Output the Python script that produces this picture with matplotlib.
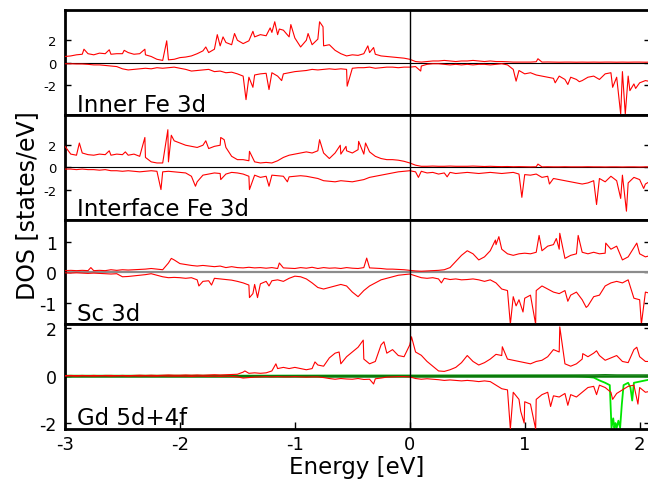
import numpy as np
import matplotlib.pyplot as plt

plt.rcParams['font.family'] = ['DejaVu Sans']

# energy grid (eV), 0.05 eV steps from -3.0 to 2.1
energy = np.round(np.linspace(-3.0, 2.1, 103), 3)

# ---- Inner Fe 3d ----
inner_up = [
    0.55, 0.6, 0.7, 0.75, 0.8, 0.7, 0.85, 0.8, 0.75, 0.8,
    0.8, 0.9, 0.75, 0.8, 0.7, 0.55, 0.3, 0.2, 0.25, 0.3,
    0.45, 0.5, 0.6, 0.8, 1.05, 0.9, 1.2, 1.5, 1.8, 1.6,
    2.0, 1.7, 1.95, 2.3, 2.5, 2.4, 2.7, 2.5, 2.9, 2.3,
    2.2, 1.4, 2.0, 1.6, 2.1, 1.5, 1.6, 1.1, 0.8, 0.6,
    0.7, 0.65, 0.8, 0.9, 0.75, 0.6, 0.55, 0.5, 0.45, 0.4,
    0.3, 0.1, 0.05, 0.1, 0.15, 0.15, 0.2, 0.15, 0.1, 0.15,
    0.15, 0.2, 0.15, 0.1, 0.15, 0.1, 0.1, 0.08, 0.05, 0.05,
    0.05, 0.05, 0.08, 0.05, 0.06, 0.05, 0.04, 0.05, 0.05, 0.04,
    0.05, 0.04, 0.05, 0.04, 0.05, 0.05, 0.04, 0.05, 0.04, 0.05,
    0.05, 0.04, 0.05]
inner_up_spk_e = [-2.835, -2.615, -2.485, -2.305, -2.115, -1.775, -1.675, -1.625, -1.525,
                  -1.365, -1.215, -1.175, -1.135, -1.035, -0.885, -0.785, -0.755, -0.365,
                  -0.315, 1.115]
inner_up_spk_v = [1.2, 1.15, 1.1, 1.2, 1.95, 1.4, 2.5, 2.3, 2.6,
                  2.8, 3.1, 3.65, 3.0, 3.4, 2.6, 3.65, 3.2, 1.5,
                  1.35, 0.35]
inner_dn = [
    -0.1, -0.1, -0.12, -0.12, -0.15, -0.2, -0.2, -0.25, -0.3, -0.35,
    -0.55, -0.65, -0.6, -0.55, -0.5, -0.55, -0.45, -0.5, -0.45, -0.4,
    -0.5, -0.6, -0.75, -0.7, -0.65, -0.6, -0.8, -0.75, -0.9, -0.85,
    -1.0, -1.2, -1.3, -1.1, -1.0, -0.95, -0.9, -1.2, -1.0, -0.9,
    -0.8, -0.75, -0.7, -0.6, -0.65, -0.6, -0.55, -0.6, -0.55, -0.6,
    -0.5, -0.45, -0.45, -0.4, -0.5, -0.45, -0.4, -0.4, -0.45, -0.4,
    -0.4, -0.35, -0.3, -0.15, -0.1, -0.1, -0.15, -0.2, -0.15, -0.2,
    -0.15, -0.2, -0.15, -0.15, -0.2, -0.15, -0.1, -0.2, -0.6, -0.7,
    -1.0, -0.9, -1.1, -1.2, -1.3, -1.4, -1.2, -1.5, -1.3, -1.5,
    -1.6, -1.3, -1.2, -1.5, -1.0, -0.9, -1.3, -0.8, -1.2, -1.9,
    -1.8, -1.6, -1.7]
inner_dn_spk_e = [-1.425, -1.365, -1.225, -1.115, -0.545, 0.095, 0.925, 1.265, 1.375,
                  1.475, 1.765, 1.835, 1.875, 1.915, 1.965]
inner_dn_spk_v = [-3.3, -2.2, -2.4, -1.6, -2.1, -0.75, -1.65, -1.8, -1.95,
                  -1.7, -2.2, -4.6, -4.6, -2.5, -2.3]

# ---- Interface Fe 3d ----
iface_up = [
    1.9, 1.2, 1.1, 1.3, 1.15, 1.1, 1.2, 1.15, 1.1, 1.2,
    1.15, 1.1, 1.2, 1.0, 0.9, 0.5, 0.4, 0.4, 0.5, 2.4,
    2.2, 2.0, 1.9, 1.8, 2.0, 1.7, 1.9, 2.0, 1.8, 1.0,
    0.7, 0.7, 0.6, 0.5, 0.4, 0.45, 0.4, 0.6, 0.9, 1.1,
    1.2, 1.3, 1.4, 1.3, 1.5, 1.3, 0.8, 1.3, 1.2, 1.5,
    1.3, 1.6, 1.2, 1.4, 1.0, 0.8, 0.7, 0.7, 0.65, 0.55,
    0.4, 0.2, 0.1, 0.1, 0.12, 0.1, 0.1, 0.12, 0.1, 0.1,
    0.1, 0.12, 0.1, 0.08, 0.1, 0.08, 0.07, 0.08, 0.06, 0.07,
    0.06, 0.05, 0.06, 0.05, 0.06, 0.05, 0.05, 0.06, 0.05, 0.05,
    0.05, 0.06, 0.05, 0.05, 0.04, 0.05, 0.05, 0.04, 0.05, 0.05,
    0.04, 0.05, 0.05]
iface_up_spk_e = [-2.875, -2.615, -2.475, -2.305, -2.105, -2.075, -1.775, -1.645, -1.615,
                  -1.395, -0.785, -0.605, -0.555, -0.445, -0.385, 1.115]
iface_up_spk_v = [2.2, 1.5, 1.4, 2.7, 3.4, 2.9, 2.4, 2.7, 2.5,
                  1.45, 2.5, 2.0, 1.9, 2.35, 2.2, 0.3]
iface_dn = [
    -0.15, -0.15, -0.2, -0.15, -0.2, -0.2, -0.25, -0.2, -0.3, -0.3,
    -0.35, -0.3, -0.35, -0.4, -0.35, -0.3, -0.35, -0.4, -0.35, -0.4,
    -0.45, -0.5, -0.8, -1.3, -0.7, -0.6, -0.5, -0.55, -0.6, -0.45,
    -0.5, -0.6, -0.8, -0.7, -0.9, -0.8, -0.7, -0.75, -0.8, -0.85,
    -0.8, -0.75, -0.8, -0.9, -1.0, -1.2, -1.25, -1.3, -1.2, -1.25,
    -1.3, -1.2, -1.1, -0.9, -0.8, -0.7, -0.6, -0.5, -0.4, -0.35,
    -0.3, -0.4, -0.35, -0.5, -0.45, -0.6, -0.5, -0.45, -0.55, -0.5,
    -0.45, -0.5, -0.55, -0.5, -0.45, -0.5, -0.55, -0.5, -0.45, -0.6,
    -0.65, -0.7, -0.6, -0.9, -0.8, -1.0, -1.1, -1.2, -1.3, -1.4,
    -1.5, -1.4, -1.2, -1.0, -1.3, -0.8, -1.2, -0.7, -1.4, -0.9,
    -1.1, -1.5, -1.2]
iface_dn_spk_e = [-2.165, -1.865, -1.645, -1.395, -1.225, -1.065, 0.075, 0.325, 0.975,
                  1.215, 1.625, 1.835, 1.885, 2.035]
iface_dn_spk_v = [-2.0, -1.7, -1.1, -2.0, -1.7, -1.3, -0.9, -0.85, -2.7,
                  -1.5, -3.35, -2.8, -3.95, -1.9]

# ---- Sc 3d ----
sc_up = [
    0.05, 0.06, 0.05, 0.06, 0.05, 0.05, 0.06, 0.05, 0.08, 0.06,
    0.08, 0.07, 0.08, 0.09, 0.1, 0.12, 0.1, 0.08, 0.3, 0.4,
    0.28, 0.25, 0.22, 0.2, 0.22, 0.2, 0.18, 0.2, 0.15, 0.18,
    0.15, 0.14, 0.16, 0.14, 0.15, 0.13, 0.15, 0.12, 0.14, 0.13,
    0.12, 0.15, 0.13, 0.16, 0.12, 0.15, 0.13, 0.14, 0.12, 0.15,
    0.13, 0.12, 0.15, 0.14, 0.13, 0.12, 0.1, 0.1, 0.09, 0.08,
    0.06, 0.04, 0.03, 0.04, 0.05, 0.06, 0.08, 0.15, 0.35, 0.55,
    0.7, 0.6, 0.4, 0.5, 0.7, 0.9, 0.75, 0.6, 0.55, 0.6,
    0.62, 0.6, 0.65, 0.7, 0.85, 0.9, 0.75, 0.45, 0.55, 0.6,
    0.65, 0.6, 0.65, 0.6, 0.62, 0.75, 0.85, 0.4, 0.5, 0.8,
    0.6, 0.5, 0.55]
sc_up_spk_e = [-2.775, -2.075, -1.135, -0.375, 0.745, 0.775, 1.125, 1.275, 1.305,
               1.465, 1.705, 1.975]
sc_up_spk_v = [0.15, 0.45, 0.3, 0.46, 1.05, 1.16, 1.2, 1.1, 1.27,
               1.2, 0.95, 0.95]
sc_dn = [
    -0.02, -0.03, -0.02, -0.03, -0.04, -0.03, -0.04, -0.05, -0.06, -0.05,
    -0.15, -0.14, -0.12, -0.1, -0.08, -0.05, -0.1, -0.15, -0.18, -0.17,
    -0.18, -0.2, -0.18, -0.25, -0.3, -0.28, -0.2, -0.22, -0.24, -0.26,
    -0.3, -0.35, -0.42, -0.4, -0.38, -0.3, -0.28, -0.25, -0.3, -0.2,
    -0.13, -0.15, -0.22, -0.35, -0.5, -0.55, -0.5, -0.45, -0.4, -0.45,
    -0.65, -0.8, -0.6, -0.45, -0.35, -0.25, -0.2, -0.15, -0.1, -0.08,
    -0.06, -0.12, -0.18, -0.2, -0.18, -0.22, -0.2, -0.24, -0.22, -0.25,
    -0.24, -0.22, -0.25, -0.3, -0.25, -0.35, -0.55, -0.6, -0.8, -0.9,
    -0.85, -0.75, -0.6, -0.45, -0.55, -0.65, -0.7, -0.6, -0.75, -0.65,
    -0.9, -1.1, -0.8, -0.75, -0.45, -0.35, -0.3, -0.35, -0.25, -0.85,
    -0.9, -0.65, -0.7]
sc_dn_spk_e = [-1.835, -1.725, -1.395, -1.365, -1.325, -1.225, 0.275, 0.875, 0.925,
               0.985, 1.095, 1.375, 1.535, 2.015]
sc_dn_spk_v = [-0.45, -0.42, -0.83, -0.7, -0.83, -0.45, -0.35, -1.7, -1.1,
               -1.3, -1.7, -0.95, -1.15, -1.7]

# ---- Gd 5d+4f ----
gd_up = [
    0.0, 0.01, 0.0, 0.01, 0.0, 0.01, 0.0, 0.01, 0.01, 0.0,
    0.01, 0.0, 0.01, 0.02, 0.01, 0.02, 0.01, 0.02, 0.03, 0.02,
    0.02, 0.03, 0.02, 0.03, 0.02, 0.03, 0.04, 0.03, 0.04, 0.05,
    0.06, 0.15, 0.1, 0.12, 0.1, 0.12, 0.2, 0.3, 0.35, 0.3,
    0.35, 0.3, 0.25, 0.3, 0.45, 0.4, 0.75, 0.95, 0.5, 0.8,
    1.0, 1.2, 0.7, 0.5, 0.6, 1.3, 0.95, 1.1, 0.85, 0.8,
    1.3, 1.0, 0.86, 0.6, 0.4, 0.2, 0.18, 0.25, 0.35, 0.55,
    0.85, 0.6, 0.45, 0.55, 0.7, 0.9, 0.85, 0.7, 0.65, 0.6,
    0.55, 0.5, 0.6, 0.65, 0.8, 1.1, 1.0, 0.5, 0.4, 0.5,
    0.7, 0.8, 0.95, 0.85, 0.65, 0.75, 0.85, 0.6, 0.55, 1.1,
    0.8, 0.6, 0.6]
gd_up_spk_e = [-1.435, -1.165, -0.825, -0.615, -0.405, -0.225, 0.015, 0.805, 1.305,
               1.505, 1.625, 1.975]
gd_up_spk_v = [0.2, 0.5, 0.58, 1.0, 1.5, 1.43, 1.64, 1.22, 2.06,
               0.93, 1.05, 1.2]
gd_dn = [
    -0.01, -0.01, -0.02, -0.01, -0.01, -0.02, -0.01, -0.01, -0.02, -0.01,
    -0.01, -0.02, -0.01, -0.02, -0.01, -0.02, -0.02, -0.01, -0.02, -0.02,
    -0.02, -0.02, -0.03, -0.02, -0.02, -0.03, -0.02, -0.03, -0.02, -0.03,
    -0.05, -0.1, -0.08, -0.06, -0.05, -0.04, -0.05, -0.04, -0.05, -0.05,
    -0.04, -0.05, -0.06, -0.05, -0.05, -0.08, -0.12, -0.15, -0.12, -0.14,
    -0.15, -0.12, -0.16, -0.15, -0.13, -0.1, -0.06, -0.05, -0.04, -0.04,
    -0.05, -0.12, -0.15, -0.13, -0.15, -0.17, -0.2, -0.18, -0.2, -0.22,
    -0.2, -0.22, -0.25, -0.22, -0.25, -0.4, -0.55, -0.6, -0.7, -1.0,
    -1.1, -1.2, -1.0, -0.8, -0.7, -0.85, -0.9, -0.75, -0.8, -0.9,
    -0.7, -0.5, -0.45, -0.4, -0.5, -0.7, -0.75, -0.6, -0.45, -0.4,
    -0.5, -0.7, -0.65]
gd_dn_spk_e = [-0.315, 0.875, 0.965, 0.995, 1.095, 1.225, 1.375, 1.625, 1.765, 1.985]
gd_dn_spk_v = [-0.35, -2.25, -1.5, -2.0, -2.25, -1.3, -1.25, -0.8, -1.0, -1.2]

# Gd 4f (green)
gd4f_up_e = [-3.0, -1.5, -0.5, 0.0, 1.0, 1.6, 1.7, 1.8, 2.1]
gd4f_up = [0.0, 0.0, 0.01, 0.01, 0.02, 0.03, 0.04, 0.03, 0.03]
gd4f_dn_e = [-3.0, -2.0, -1.0, 0.0, 0.5, 1.0, 1.4, 1.5, 1.6, 1.65, 1.7, 1.74, 1.755, 1.77,
             1.78, 1.79, 1.8, 1.815, 1.83, 1.845, 1.86, 1.9, 1.92, 1.935, 1.95, 2.0, 2.05, 2.1]
gd4f_dn = [0.0, 0.0, 0.0, 0.0, 0.0, 0.0, -0.01, -0.03, -0.08, -0.2,
           -0.3, -0.4, -2.2, -1.8, -2.2, -2.0, -2.2, -1.9, -2.2, -1.2,
           -0.4, -0.3, -0.5, -1.05, -0.3, -0.25, -0.2, -0.15]

panel_names = ['Inner Fe 3d', 'Interface Fe 3d', 'Sc 3d', 'Gd 5d+4f']
panel_ylims = [(-4.65, 4.7), (-4.7, 4.75), (-1.7, 1.72), (-2.25, 2.17)]
panel_yticks = [[-2, 0, 2], [-2, 0, 2], [-1, 0, 1], [-2, 0, 2]]
xticks = [-3, -2, -1, 0, 1, 2]


def with_spikes(vals, spk_e, spk_v):
    e = np.concatenate([energy, spk_e])
    v = np.concatenate([vals, spk_v])
    o = np.argsort(e)
    return e[o], v[o]


curves = [
    [(inner_up, inner_up_spk_e, inner_up_spk_v), (inner_dn, inner_dn_spk_e, inner_dn_spk_v)],
    [(iface_up, iface_up_spk_e, iface_up_spk_v), (iface_dn, iface_dn_spk_e, iface_dn_spk_v)],
    [(sc_up, sc_up_spk_e, sc_up_spk_v), (sc_dn, sc_dn_spk_e, sc_dn_spk_v)],
    [(gd_up, gd_up_spk_e, gd_up_spk_v), (gd_dn, gd_dn_spk_e, gd_dn_spk_v)],
]

W, H = 648, 481
fig = plt.figure(figsize=(W / 100, H / 100), dpi=100)

x0, x1 = 65, 650
tops = [11, 115.75, 220.5, 325.25, 430]
zero_style = [('black', 0.8), ('black', 0.8), ('#8c8c8c', 1.6), ('#0a7a0a', 1.8)]
label_base = [111.5, 216.5, 321.5, 425.5]
tick_fs = [9.5, 9.5, 12.5, 12.5]

for i in range(4):
    ax = fig.add_axes([x0 / W, 1 - tops[i + 1] / H, (x1 - x0) / W, (tops[i + 1] - tops[i]) / H])
    ax.set_xlim(-3, 2.09)
    ax.set_ylim(*panel_ylims[i])
    zc, zw = zero_style[i]
    if i == 3:
        ax.plot(gd4f_dn_e, gd4f_dn, color='#00e600', lw=1.3, zorder=1)
        ax.plot(gd4f_up_e, gd4f_up, color='#0a7a0a', lw=1.0, zorder=1)
    ax.axhline(0, color=zc, lw=zw, zorder=2)
    for vals, se, sv in curves[i]:
        e, v = with_spikes(vals, se, sv)
        ax.plot(e, v, color='red', lw=0.8, zorder=3)
    ax.axvline(0, color='black', lw=1.0, zorder=4)
    ax.set_yticks(panel_yticks[i])
    ax.set_yticklabels([str(t) for t in panel_yticks[i]])
    ax.tick_params(axis='y', direction='in', length=4, width=1, right=True,
                   labelsize=tick_fs[i], pad=6)
    ax.set_xticks(xticks)
    if i == 3:
        ax.tick_params(axis='x', direction='in', length=5, width=1, top=False,
                       labelsize=13, pad=4)
        ax.set_xticklabels([str(t) for t in xticks])
    else:
        ax.tick_params(axis='x', bottom=False, labelbottom=False)
    for s in ax.spines.values():
        s.set_linewidth(2.0)
    fig.text(77 / W, 1 - label_base[i] / H, panel_names[i], fontsize=16.5,
             va='baseline', ha='left')

fig.text(27 / W, 1 - 206 / H, 'DOS [states/eV]', rotation=90, fontsize=17,
         ha='center', va='center')
fig.text(357 / W, 1 - 474 / H, 'Energy [eV]', fontsize=16.5, ha='center', va='baseline')

fig.savefig('out.png', dpi=100)
